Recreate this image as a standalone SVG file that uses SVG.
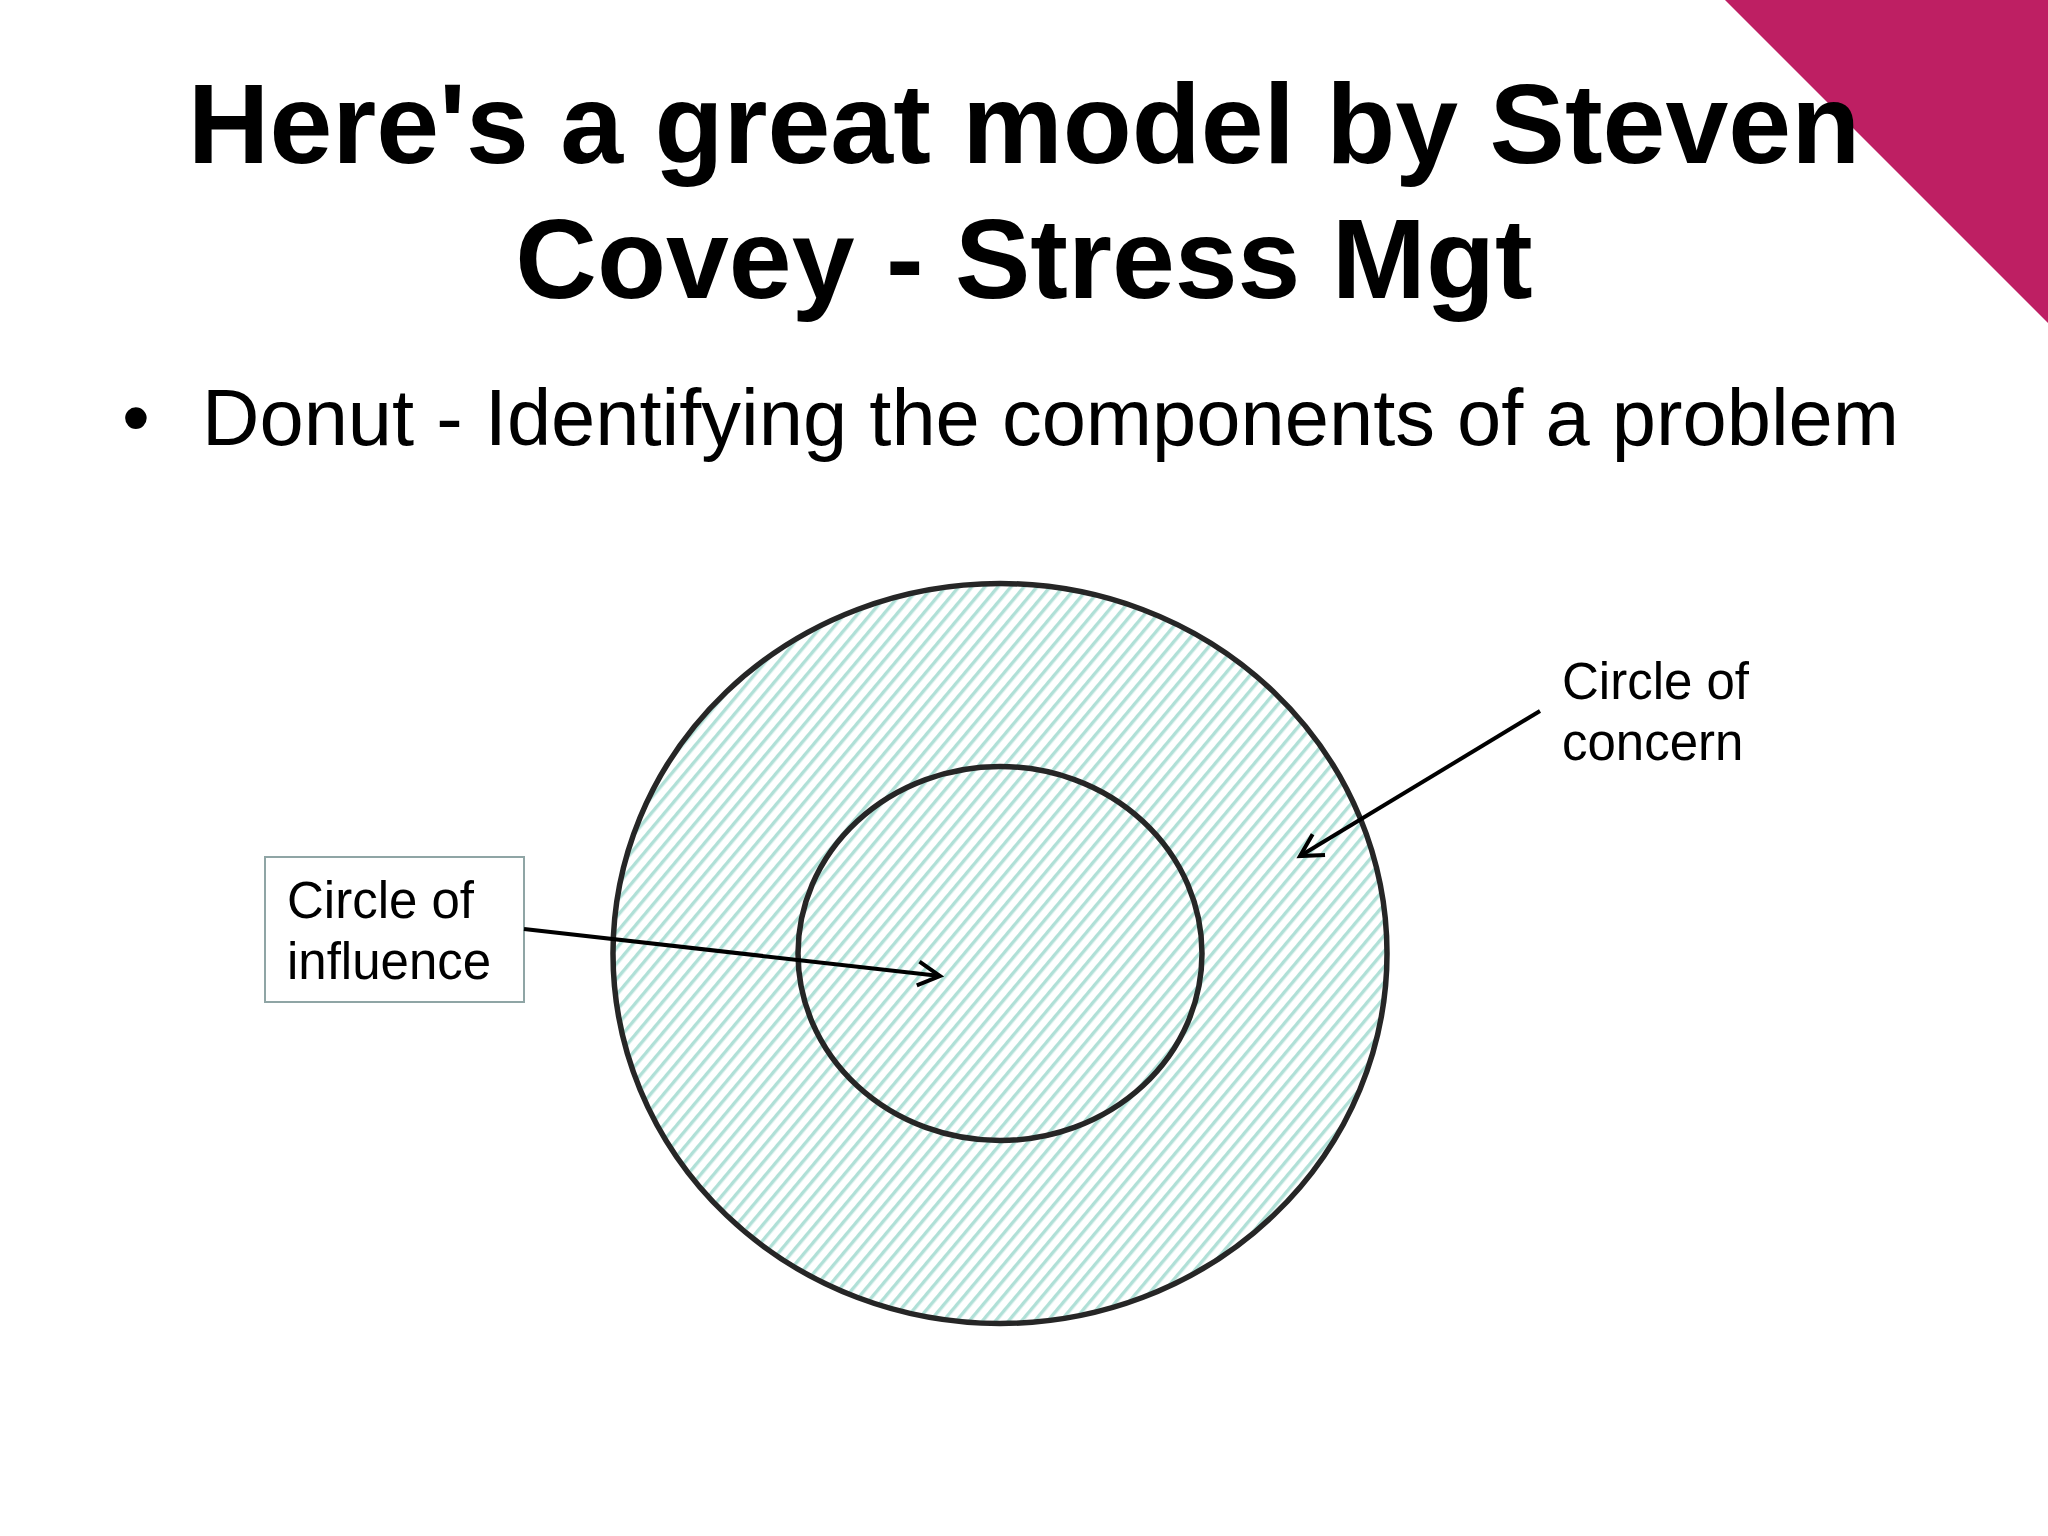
<svg xmlns="http://www.w3.org/2000/svg" width="2048" height="1536" viewBox="0 0 2048 1536">
  <style>
    .title { font-family: "Liberation Sans", Arial, sans-serif; font-weight: bold; font-size: 113px; fill: #000; }
    .sub { font-family: "Liberation Sans", Arial, sans-serif; font-size: 79.5px; fill: #000; }
    .lbl { font-family: "Liberation Sans", Arial, sans-serif; font-size: 51px; fill: #000; }
    .ring { fill: url(#hatch); stroke: #262626; stroke-width: 5.5; }
    .conn { fill: none; stroke: #000; stroke-width: 4; }
  </style>
  <defs>
    <pattern id="hatch" patternUnits="userSpaceOnUse" width="10" height="10" patternTransform="rotate(-50)">
      <rect width="10" height="10" fill="#ffffff"/>
      <rect width="10" height="3.4" fill="#b0e0d7"/>
    </pattern>
    <marker id="arrow" markerUnits="userSpaceOnUse" markerWidth="40" markerHeight="40" refX="30" refY="20" orient="auto">
      <path d="M8,8 L30,20 L8,32" fill="none" stroke="#000" stroke-width="4"/>
    </marker>
  </defs>
  <rect width="2048" height="1536" fill="#ffffff"/>
  <polygon points="1725,0 2048,0 2048,323" fill="#be1f63"/>

  <g id="title">
    <text class="title" x="1024" y="163" text-anchor="middle">Here's a great model by Steven</text>
    <text class="title" x="1024" y="298" text-anchor="middle">Covey - Stress Mgt</text>
  </g>
  <g id="subtitle">
    <text class="sub" x="122" y="445">•</text>
    <text class="sub" x="202" y="445">Donut - Identifying the components of a problem</text>
  </g>

  <g id="circle-of-concern">
    <ellipse class="ring" cx="1000" cy="953.5" rx="387" ry="370"/>
  </g>
  <g id="circle-of-influence">
    <ellipse class="ring" cx="1000" cy="953.5" rx="202" ry="187"/>
  </g>

  <g id="influence-label">
    <rect x="265" y="857" width="259" height="145" fill="#ffffff" stroke="#8fa5a5" stroke-width="2"/>
    <text class="lbl" x="287" y="918">Circle of</text>
    <text class="lbl" x="287" y="979">influence</text>
  </g>
  <g id="concern-label">
    <text class="lbl" x="1562" y="699">Circle of</text>
    <text class="lbl" x="1562" y="760">concern</text>
  </g>

  <g id="connectors">
    <line class="conn" x1="524" y1="929" x2="940" y2="976" marker-end="url(#arrow)"/>
    <line class="conn" x1="1540" y1="711" x2="1300" y2="856" marker-end="url(#arrow)"/>
  </g>
</svg>
